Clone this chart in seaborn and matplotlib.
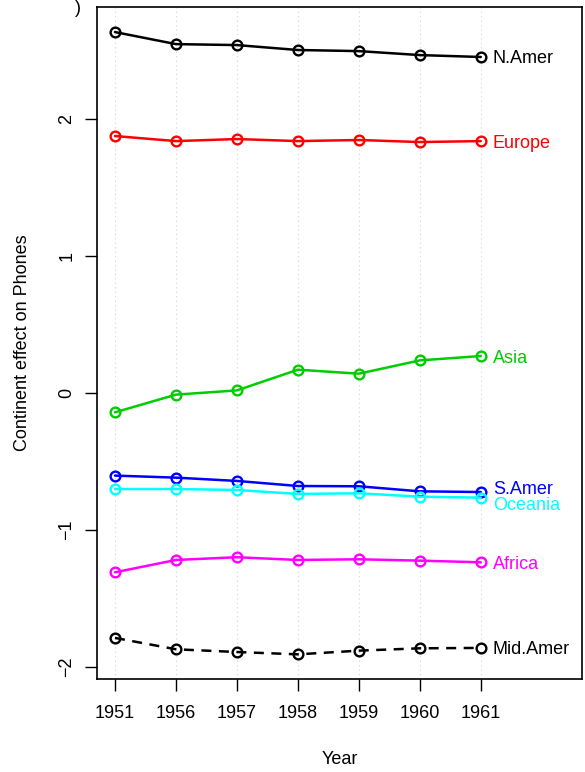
import matplotlib
matplotlib.use("Agg")
import matplotlib.pyplot as plt
import seaborn as sns
import pandas as pd
import numpy as np

# Continent effects on phone counts, by year
years = ["1951", "1956", "1957", "1958", "1959", "1960", "1961"]
continents = ["N.Amer", "Europe", "Asia", "S.Amer", "Oceania", "Africa", "Mid.Amer"]
n_amer = [2.635, 2.547, 2.540, 2.504, 2.496, 2.467, 2.453]
europe = [1.876, 1.839, 1.854, 1.839, 1.847, 1.832, 1.839]
asia = [-0.141, -0.012, 0.019, 0.170, 0.141, 0.238, 0.270]
s_amer = [-0.603, -0.618, -0.642, -0.679, -0.681, -0.718, -0.723]
oceania = [-0.701, -0.701, -0.708, -0.737, -0.732, -0.757, -0.764]
africa = [-1.309, -1.219, -1.199, -1.219, -1.214, -1.224, -1.236]
mid_amer = [-1.788, -1.871, -1.891, -1.908, -1.881, -1.864, -1.861]
colors = ["black", "#FF0000", "#00CD00", "#0000FF", "#00FFFF", "#FF00FF", "black"]
dashed = ["Mid.Amer"]

series = [n_amer, europe, asia, s_amer, oceania, africa, mid_amer]
rows = []
for name, vals in zip(continents, series):
    for i, v in enumerate(vals):
        rows.append({"pos": i + 1, "Continent": name, "effect": v})
df = pd.DataFrame(rows)

sns.set_theme(style="white")
plt.rcParams["font.family"] = ["Liberation Sans", "DejaVu Sans"]
FS = 13

fig = plt.figure(figsize=(5.85, 7.72), dpi=100)
ax = fig.add_axes([97 / 585, 93 / 772, 485 / 585, 672 / 772])

# faint dotted guides at each year
for i in range(len(years)):
    ax.axvline(i + 1, color="#d3d3d3", lw=0.8, ls=(0, (1, 3)), zorder=0)

for name, col in zip(continents, colors):
    sub = df[df["Continent"] == name]
    sns.lineplot(data=sub, x="pos", y="effect", ax=ax, color=col,
                 lw=1.8, marker="o", markersize=7, markerfacecolor="none",
                 markeredgecolor=col, markeredgewidth=1.7,
                 linestyle=(0, (4, 3)) if name in dashed else "-",
                 legend=False)

# end labels, nudged apart where lines crowd
nudge = {"S.Amer": 0.03, "Oceania": -0.045}
for name, col, vals in zip(continents, colors, series):
    ax.text(len(years) + 0.2, vals[-1] + nudge.get(name, 0.0), name,
            color=col, fontsize=FS, ha="left", va="center_baseline")

ax.set_xlim(0.705, 8.66)
ax.set_ylim(-2.088, 2.818)
ax.set_xticks(range(1, len(years) + 1))
ax.set_xticklabels(years)
ax.set_yticks([-2, -1, 0, 1, 2])
ax.set_yticklabels(["\u22122", "\u22121", "0", "1", "2"], rotation=90, va="center")
ax.tick_params(axis="both", which="major", direction="out", length=8.5, width=1,
               color="black", labelsize=FS, labelcolor="black",
               bottom=True, left=True)
ax.tick_params(axis="x", pad=10)
ax.tick_params(axis="y", pad=7)
for s in ax.spines.values():
    s.set_color("black")
    s.set_linewidth(1.2)
ax.grid(False)
ax.set_xlabel("Year", fontsize=FS, labelpad=21, color="black")
ax.set_ylabel("Continent effect on Phones", fontsize=FS, labelpad=20, color="black")

fig.text(78 / 585, 1.0, ")", fontsize=FS, ha="center", va="top", color="black")

fig.savefig("out.png", dpi=100, facecolor="white")
